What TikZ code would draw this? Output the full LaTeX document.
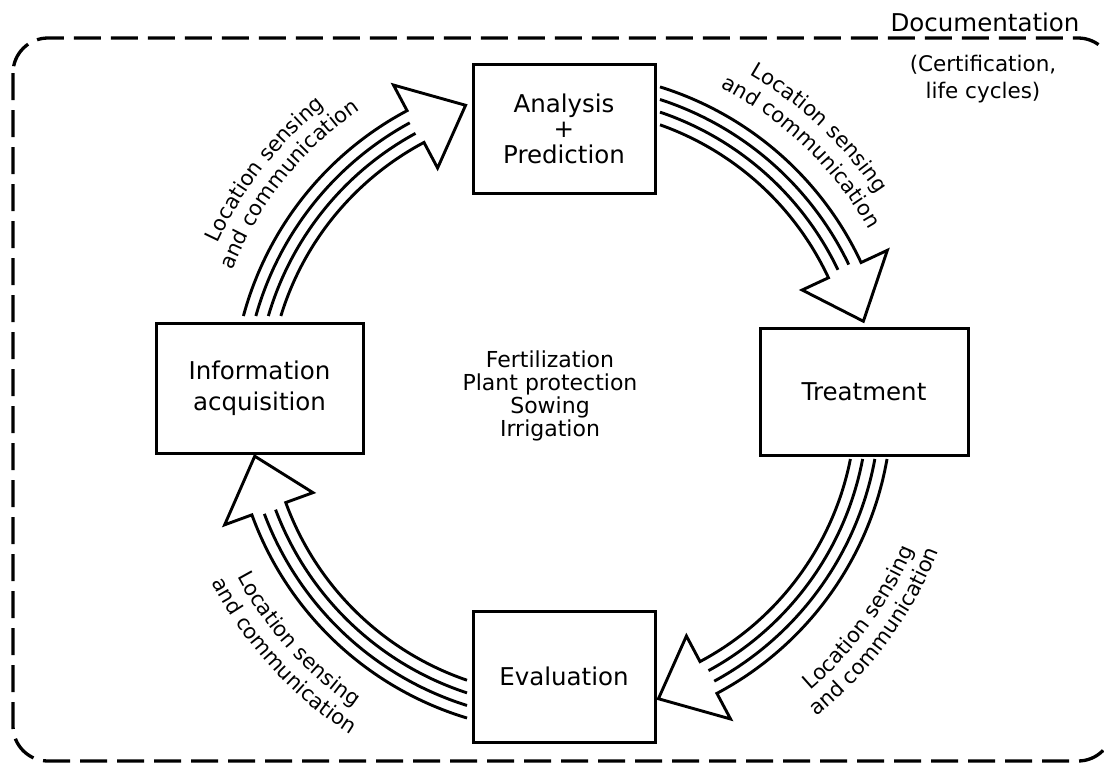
\documentclass[tikz,border=0pt]{standalone}
\usepackage{fontspec}
\setmainfont{DejaVu Sans}
\usetikzlibrary{decorations.text}
\newcommand\lsfont{\fontsize{21}{24}\selectfont}
\def\cx{562}
\def\cy{402}
% #1..#4 start angles (r=330,318,306,294), #5 base angle of the head
\newcommand\lsbundle[5]{%
  \pgfmathsetmacro\lsA{#1}\pgfmathsetmacro\lsB{#2}%
  \pgfmathsetmacro\lsC{#3}\pgfmathsetmacro\lsD{#4}%
  \pgfmathsetmacro\lsTip{#5+10}\pgfmathsetmacro\lsEnd{#5-0.6}%
  \draw[bund] plot[domain=\lsA:#5, samples=60] ({\cx+330*cos(\x)},{\cy+330*sin(\x)})
    -- ({\cx+359*cos(#5)},{\cy+359*sin(#5)})
    -- ({\cx+312*cos(\lsTip)},{\cy+312*sin(\lsTip)})
    -- ({\cx+265*cos(#5)},{\cy+265*sin(#5)})
    -- ({\cx+294*cos(#5)},{\cy+294*sin(#5)})
    -- plot[domain=#5:\lsD, samples=60] ({\cx+294*cos(\x)},{\cy+294*sin(\x)});
  \draw[bund] plot[domain=\lsB:\lsEnd, samples=60] ({\cx+318*cos(\x)},{\cy+318*sin(\x)});
  \draw[bund] plot[domain=\lsC:\lsEnd, samples=60] ({\cx+306*cos(\x)},{\cy+306*sin(\x)});
}
% #1 baseline radius, #2 start angle, #3 end angle, #4 text
\newcommand\lstext[4]{%
  \path[decorate, decoration={text along path, text align=center, text={|\lsfont|#4}}]
    plot[domain=#2:#3, samples=90] ({\cx+#1*cos(\x)},{\cy+#1*sin(\x)});
}
\begin{document}
\begin{tikzpicture}[x=1pt, y=-1pt,
  box/.style={draw, line width=3pt, align=center, inner sep=0pt,
    font=\fontsize{24.5}{30}\selectfont},
  bund/.style={line width=2.9pt, line join=miter},
  frame/.style={line width=3.3pt, dash pattern=on 27pt off 10pt, rounded corners=35pt},
  plain/.style={align=center, inner sep=0pt}]
\useasboundingbox (0,0) rectangle (1104,763);
\coordinate (O) at (\cx,\cy);

% documentation frame
\draw[frame] (13,38) rectangle (1113,761);
\node[plain, anchor=base, font=\fontsize{24.5}{28}\selectfont] (doc) at (985,31) {Documentation};
\node[plain, font=\fontsize{21.5}{27}\selectfont] (docsub) at (983,79) {(Certification,\\life cycles)};

% boxes
\node[box, minimum width=182pt, minimum height=129pt,
  font=\fontsize{24.5}{25.5}\selectfont] (ana) at (564,128.5) {Analysis\\+\\Prediction};
\node[box, minimum width=208pt, minimum height=127pt] (treat) at (864,391.5) {Treatment};
\node[box, minimum width=182pt, minimum height=131pt] (eval) at (564,676.5) {Evaluation};
\node[box, minimum width=207pt, minimum height=130pt,
  font=\fontsize{24.5}{31}\selectfont] (info) at (259.5,388) {Information\\acquisition};

% centre text
\node[plain, font=\fontsize{22}{23}\selectfont] (tasks) at (550,396)
  {Fertilization\\Plant protection\\Sowing\\Irrigation};

% arrow bundles
\lsbundle{180+asin(86/330)}{180+asin(86/318)}{180+asin(86/306)}{180+asin(86/294)}{242}
\lsbundle{-acos(98/330)}{-acos(98/318)}{-acos(98/306)}{-acos(98/294)}{-25}
\lsbundle{asin(57/330)}{asin(57/318)}{asin(57/306)}{asin(57/294)}{62}
\lsbundle{acos(-95/330)}{acos(-95/318)}{acos(-95/306)}{acos(-95/294)}{160}

% bundle labels
\lstext{379}{193}{243}{Location sensing}
\lstext{355}{193.6}{243.6}{and communication}
\lstext{377}{-71.8}{-21.8}{Location sensing}
\lstext{352}{-71.3}{-21.3}{and communication}
\lstext{381}{61}{11}{Location sensing}
\lstext{405}{61.3}{11.3}{and communication}
\lstext{369}{163}{113}{Location sensing}
\lstext{394}{162.6}{112.6}{and communication}
\end{tikzpicture}
\end{document}
